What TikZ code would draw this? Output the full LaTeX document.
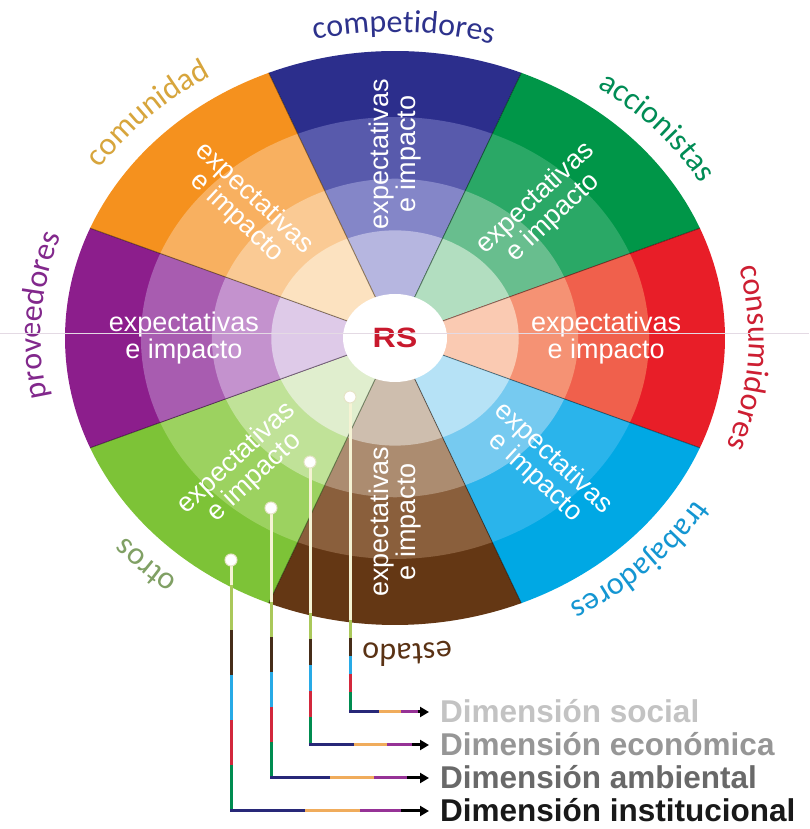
\documentclass[tikz,border=0pt]{standalone}
\usepackage{fontspec}
\newfontfamily\arialf{Liberation Sans}
\newfontfamily\carlito{Carlito}
\usetikzlibrary{calc,decorations.text,arrows.meta}
% sector colours, outer (1) to inner (4)
\definecolor{cp1}{RGB}{44,46,140}\definecolor{cp2}{RGB}{88,90,172}\definecolor{cp3}{RGB}{132,134,200}\definecolor{cp4}{RGB}{182,182,224}
\definecolor{ac1}{RGB}{0,150,72}\definecolor{ac2}{RGB}{42,168,102}\definecolor{ac3}{RGB}{104,190,142}\definecolor{ac4}{RGB}{178,222,192}
\definecolor{cs1}{RGB}{232,30,40}\definecolor{cs2}{RGB}{240,96,76}\definecolor{cs3}{RGB}{245,146,116}\definecolor{cs4}{RGB}{250,202,178}
\definecolor{tr1}{RGB}{0,168,228}\definecolor{tr2}{RGB}{42,180,235}\definecolor{tr3}{RGB}{118,202,240}\definecolor{tr4}{RGB}{182,226,246}
\definecolor{es1}{RGB}{100,55,20}\definecolor{es2}{RGB}{138,95,60}\definecolor{es3}{RGB}{172,140,112}\definecolor{es4}{RGB}{206,190,174}
\definecolor{ot1}{RGB}{125,195,55}\definecolor{ot2}{RGB}{156,210,96}\definecolor{ot3}{RGB}{192,226,152}\definecolor{ot4}{RGB}{224,238,206}
\definecolor{pv1}{RGB}{140,30,140}\definecolor{pv2}{RGB}{168,92,176}\definecolor{pv3}{RGB}{196,146,206}\definecolor{pv4}{RGB}{222,202,232}
\definecolor{cm1}{RGB}{245,145,30}\definecolor{cm2}{RGB}{248,176,96}\definecolor{cm3}{RGB}{250,202,148}\definecolor{cm4}{RGB}{252,226,192}
% label colours
\definecolor{lcp}{RGB}{45,50,140}\definecolor{lac}{RGB}{0,140,85}\definecolor{lcs}{RGB}{205,30,50}
\definecolor{ltr}{RGB}{20,150,210}\definecolor{les}{RGB}{90,50,20}\definecolor{lot}{RGB}{128,160,100}
\definecolor{lpv}{RGB}{130,40,140}\definecolor{lcm}{RGB}{215,165,60}
\definecolor{rsred}{RGB}{200,25,45}
\definecolor{paleline}{RGB}{245,243,212}
\definecolor{segol}{RGB}{170,200,90}\definecolor{segbr}{RGB}{70,45,25}\definecolor{segcy}{RGB}{40,170,230}
\definecolor{segrd}{RGB}{210,40,60}\definecolor{seggr}{RGB}{0,140,80}\definecolor{segnv}{RGB}{40,40,120}
\definecolor{segor}{RGB}{240,172,92}\definecolor{segpu}{RGB}{150,50,150}
\definecolor{g1}{RGB}{195,195,195}\definecolor{g2}{RGB}{150,150,150}\definecolor{g3}{RGB}{105,105,105}\definecolor{g4}{RGB}{25,25,25}
\newcommand\lblfont{\carlito\fontsize{32pt}{32pt}\selectfont}
\newcommand\outerlabel[3]{%
  \path[decorate,decoration={text along path,text align=center,text={|\lblfont\color{#2}|#3}}]
    ($(C)+({#1+35}:354pt and 306pt)$) arc[start angle={#1+35},end angle={#1-35},x radius=354pt,y radius=306pt];}
\newcommand\connector[3]{% #1 dot, #2 exit point, #3 label
  \draw[paleseg] (#1) -- (#2);
  \coordinate (k#1) at (#1 |- #3.west);
  \coordinate (a#1) at ($(#3.west)+(-11,0)$);
  \draw[seg,segol] (#2) -- ($(#2)!0.2!(k#1)$);
  \draw[seg,segbr] ($(#2)!0.2!(k#1)$) -- ($(#2)!0.4!(k#1)$);
  \draw[seg,segcy] ($(#2)!0.4!(k#1)$) -- ($(#2)!0.6!(k#1)$);
  \draw[seg,segrd] ($(#2)!0.6!(k#1)$) -- ($(#2)!0.8!(k#1)$);
  \draw[seg,seggr] ($(#2)!0.8!(k#1)$) -- (k#1);
  \draw[seg,segnv] (k#1) -- ($(k#1)!0.38!(a#1)$);
  \draw[seg,segor] ($(k#1)!0.38!(a#1)$) -- ($(k#1)!0.66!(a#1)$);
  \draw[seg,segpu] ($(k#1)!0.66!(a#1)$) -- ($(k#1)!0.86!(a#1)$);
  \draw[line width=3pt,black,-{Triangle[length=9pt,width=10pt]}] ($(k#1)!0.86!(a#1)$) -- (a#1);
  \node[dot] at (#1) {};}
\begin{document}
\begin{tikzpicture}[x=1pt,y=1pt,
  intext/.style={font=\arialf\fontsize{27pt}{25pt}\selectfont,text=white,align=center,inner sep=0pt},
  sepline/.style={black,opacity=0.45,line width=0.9pt},
  seg/.style={line width=3pt,line cap=rect},
  paleseg/.style={line width=3pt,paleline},
  dot/.style={circle,fill=white,draw=paleline!80!black!30!paleline,line width=1pt,minimum size=12pt,inner sep=0pt},
  dimlbl/.style={anchor=west,font=\arialf\bfseries\fontsize{31.5pt}{32pt}\selectfont,inner sep=0pt,text height=21pt,text depth=0pt}]
\useasboundingbox (0,0) rectangle (809,829);
\fill[white] (0,0) rectangle (809,829);
\coordinate (C) at (395,491);
% wedges
\foreach \a/\nm in {90/cp,45/ac,0/cs,-45/tr,-90/es,-135/ot,180/pv,135/cm}{
  \foreach \fr/\k in {1/1,0.77/2,0.555/3,0.375/4}{
    \fill[fill=\nm\k] (C) -- ($(C)+({\a+22.5}:{\fr*330pt} and {\fr*287pt})$)
      arc[start angle={\a+22.5},end angle={\a-22.5},x radius={\fr*330pt},y radius={\fr*287pt}] -- cycle;
  }
}
\foreach \a in {22.5,67.5,112.5,157.5,202.5,247.5,292.5,337.5}
  \draw[sepline] ($(C)+(\a:50pt and 43pt)$) -- ($(C)+(\a:330pt and 287pt)$);
% centre
\fill[white] (C) ellipse[x radius=52pt,y radius=44pt];
\node[font=\arialf\bfseries\fontsize{28pt}{28pt}\selectfont,text=rsred,xscale=1.15] (rs) at (C) {RS};
% inner texts
\foreach \a/\rot/\nm in {90/90/cp,45/43/ac,0/0/cs,-45/-43/tr,-90/90/es,-135/43/ot,180/0/pv,135/-43/cm}
  \node[intext,rotate=\rot] (x-\nm) at ($(C)+(\a:{0.64*330pt} and {0.64*287pt})$) {expectativas\\e impacto};
% outer labels
\outerlabel{88.5}{lcp}{competidores}
\outerlabel{41.5}{lac}{accionistas}
\outerlabel{-3.5}{lcs}{consumidores}
\outerlabel{-45}{ltr}{trabajadores}
\outerlabel{-88}{les}{estado}
\outerlabel{-135}{lot}{otros}
\outerlabel{176}{lpv}{proveedores}
\outerlabel{135}{lcm}{comunidad}
% dimension labels
\node[dimlbl,text=g1] (l1) at (440,117) {Dimensión social};
\node[dimlbl,text=g2] (l2) at (440,84) {Dimensión económica};
\node[dimlbl,text=g3] (l3) at (440,51) {Dimensión ambiental};
\node[dimlbl,text=g4] (l4) at (440,18) {Dimensión institucional};
% dots and exit points
\coordinate (d1) at (350,432);\coordinate (e1) at (350,207);
\coordinate (d2) at (310,367);\coordinate (e2) at (310,214);
\coordinate (d3) at (271,321);\coordinate (e3) at (271,225);
\coordinate (d4) at (231,269);\coordinate (e4) at (231,242);
\connector{d1}{e1}{l1}
\connector{d2}{e2}{l2}
\connector{d3}{e3}{l3}
\connector{d4}{e4}{l4}
% thin horizontal line
\draw[line width=0.8pt,color={rgb,255:red,228;green,218;blue,228}] (0,496) -- (809,496);
\end{tikzpicture}
\end{document}
